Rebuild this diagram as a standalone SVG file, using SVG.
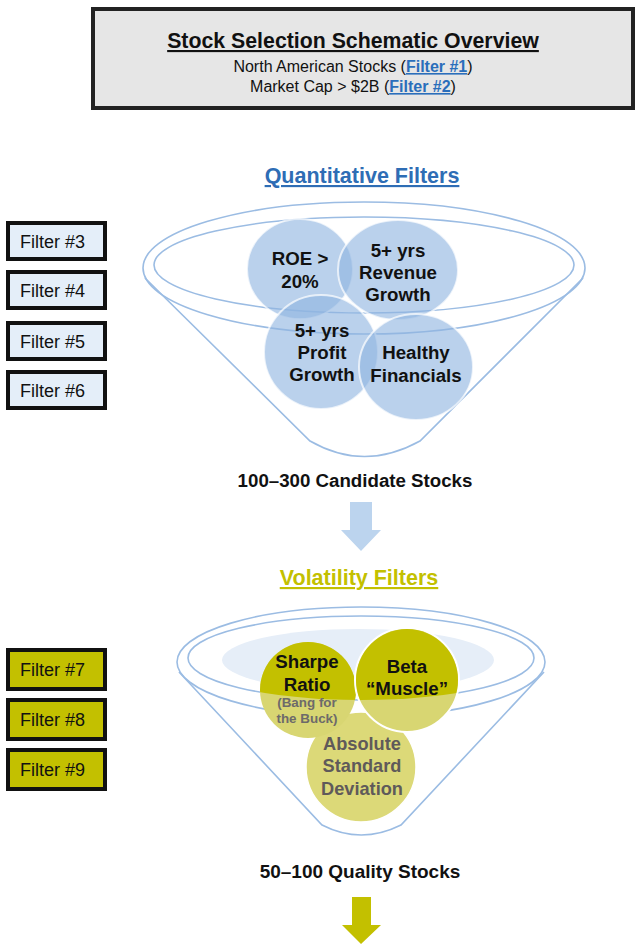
<svg xmlns="http://www.w3.org/2000/svg" width="637" height="945" viewBox="0 0 637 945">
<style>
text{font-family:"Liberation Sans",Arial,sans-serif;}
.b{font-weight:bold;}
.c{text-anchor:middle;}
.fbox{stroke:#111;stroke-width:4;}
.q{fill:#e4eef9;}
.v{fill:#c3c000;}
.flab{font-size:18px;fill:#111;}
.funnel{fill:none;stroke:#9bbce3;stroke-width:1.6;}
.qc{fill:#8fb5e0;fill-opacity:0.62;stroke:#ffffff;stroke-opacity:0.7;stroke-width:2;}
.ct{font-size:18.7px;font-weight:bold;fill:#111;text-anchor:middle;}
.gt{fill:#5f5a5a;}
.sm{font-size:13.4px;fill:#6d6a6a;}
.link{fill:#2a6ebb;font-weight:bold;text-decoration:underline;}
</style>
<defs>
<clipPath id="inner2"><ellipse cx="361" cy="658" rx="173" ry="42"/></clipPath>
</defs>

<g id="header">
<rect x="93" y="9" width="540" height="99" fill="#e6e6e6" stroke="#222" stroke-width="4"/>
<text x="353" y="48" class="b c" font-size="21.3" fill="#111" text-decoration="underline">Stock Selection Schematic Overview</text>
<text x="353" y="72" class="c" font-size="16" fill="#111">North American Stocks (<tspan class="link">Filter #1</tspan>)</text>
<text x="353" y="92" class="c" font-size="16" fill="#111">Market Cap &gt; $2B (<tspan class="link">Filter #2</tspan>)</text>
</g>

<g id="quant-title">
<text x="362" y="183" class="b c" font-size="21.5" fill="#2e6db5" text-decoration="underline">Quantitative Filters</text>
</g>

<g id="filters-quant">
<g id="filter3"><rect x="8" y="223" width="97" height="36" class="fbox q"/><text x="20" y="248" class="flab">Filter #3</text></g>
<g id="filter4"><rect x="8" y="272" width="97" height="36" class="fbox q"/><text x="20" y="297" class="flab">Filter #4</text></g>
<g id="filter5"><rect x="8" y="323" width="97" height="36" class="fbox q"/><text x="20" y="348" class="flab">Filter #5</text></g>
<g id="filter6"><rect x="8" y="372" width="97" height="36" class="fbox q"/><text x="20" y="397" class="flab">Filter #6</text></g>
</g>

<g id="funnel-quant">
<ellipse cx="364" cy="268" rx="221" ry="66" class="funnel"/>
<ellipse cx="364" cy="265" rx="210" ry="48" class="funnel"/>
<path d="M145,278 L310,441 Q364,472 420,441 L583,278" class="funnel"/>
</g>

<g id="circle-roe"><ellipse cx="300" cy="269" rx="53" ry="50" class="qc"/>
<text x="300" y="265" class="ct">ROE &gt;</text><text x="300" y="288" class="ct">20%</text></g>
<g id="circle-revenue"><ellipse cx="398" cy="270" rx="60" ry="50" class="qc"/>
<text x="398" y="257" class="ct">5+ yrs</text><text x="398" y="279" class="ct">Revenue</text><text x="398" y="301" class="ct">Growth</text></g>
<g id="circle-profit"><ellipse cx="321" cy="352" rx="57" ry="57" class="qc"/>
<text x="322" y="337" class="ct">5+ yrs</text><text x="322" y="359" class="ct">Profit</text><text x="322" y="381" class="ct">Growth</text></g>
<g id="circle-healthy"><ellipse cx="416" cy="367" rx="57" ry="53" class="qc" fill-opacity="0.7"/>
<text x="416" y="359" class="ct">Healthy</text><text x="416" y="382" class="ct">Financials</text></g>

<g id="candidates">
<text x="355" y="487" class="b c" font-size="18.7" fill="#111">100–300 Candidate Stocks</text>
</g>

<g id="connectors">
<path d="M350,502 H372 V530 H381 L361,551 L341,530 H350 Z" fill="#bcd4ee"/>
<path d="M352,897 H371 V925 H381 L361,944 L342,925 H352 Z" fill="#c3c000"/>
</g>

<g id="vol-title">
<text x="359" y="585" class="b c" font-size="21.5" fill="#c3c000" text-decoration="underline">Volatility Filters</text>
</g>

<g id="filters-vol">
<g id="filter7"><rect x="8" y="650" width="97" height="39" class="fbox v"/><text x="20" y="676" class="flab">Filter #7</text></g>
<g id="filter8"><rect x="8" y="700" width="97" height="39" class="fbox v"/><text x="20" y="726" class="flab">Filter #8</text></g>
<g id="filter9"><rect x="8" y="750" width="97" height="39" class="fbox v"/><text x="20" y="776" class="flab">Filter #9</text></g>
</g>

<g id="funnel-vol">
<ellipse cx="358" cy="660" rx="136" ry="31" fill="#e6eef8"/>
<ellipse cx="361" cy="662" rx="184" ry="55" class="funnel"/>
<ellipse cx="361" cy="658" rx="173" ry="42" class="funnel"/>
<path d="M179,672 L322,825 Q361,845 401,825 L544,672" class="funnel"/>
</g>

<g id="circle-asd"><circle cx="361" cy="767" r="55" fill="#dcd978" stroke="#fff" stroke-width="1.5"/>
<text x="362" y="750" class="ct gt" style="font-size:18.2px">Absolute</text><text x="362" y="772" class="ct gt" style="font-size:18.2px">Standard</text><text x="362" y="795" class="ct gt" style="font-size:18.2px">Deviation</text></g>
<g id="circle-sharpe"><circle cx="308" cy="690" r="48" fill="#d8d672"/>
<circle cx="308" cy="690" r="48" fill="#c3c000" clip-path="url(#inner2)"/>
<text x="307" y="668" class="ct">Sharpe</text><text x="307" y="691" class="ct">Ratio</text>
<text x="307" y="707" class="ct sm">(Bang for</text><text x="307" y="723" class="ct sm">the Buck)</text></g>
<g id="circle-beta"><circle cx="407" cy="680" r="52" fill="#d8d672" stroke="#fff" stroke-width="2"/>
<circle cx="407" cy="680" r="51" fill="#c3c000" clip-path="url(#inner2)"/>
<text x="407" y="673" class="ct">Beta</text><text x="407" y="695" class="ct">“Muscle”</text></g>

<g id="quality">
<text x="360" y="878" class="b c" font-size="19" fill="#111">50–100 Quality Stocks</text>
</g>
</svg>
